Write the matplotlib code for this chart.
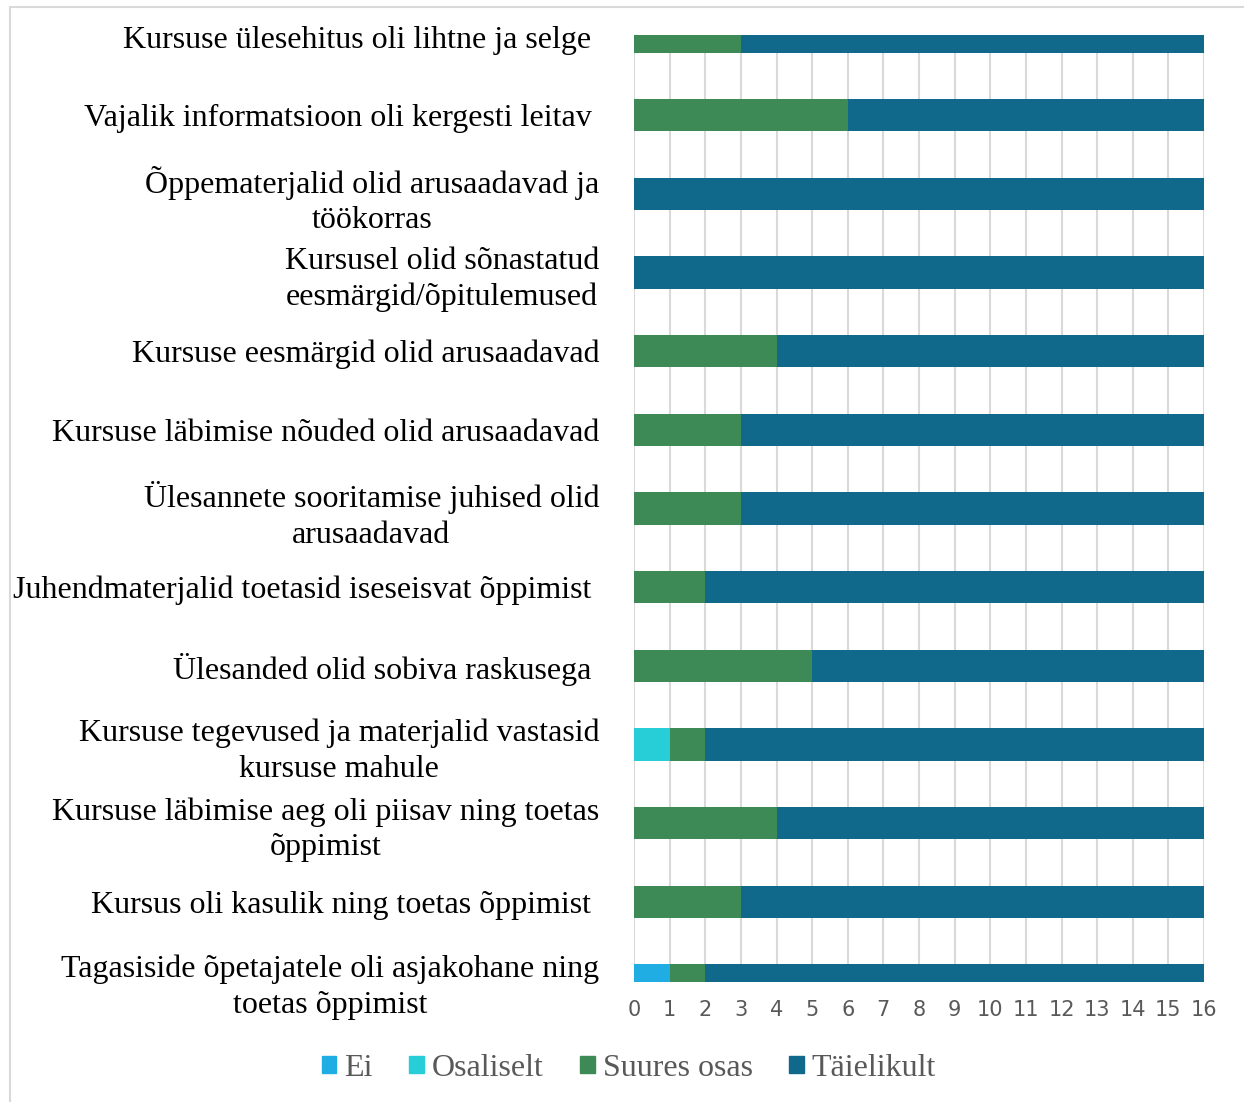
import matplotlib.pyplot as plt
import matplotlib.patches as mpatches
import numpy as np

categories = [
    'Kursuse ülesehitus oli lihtne ja selge ',
    'Vajalik informatsioon oli kergesti leitav ',
    'Õppematerjalid olid arusaadavad ja\ntöökorras',
    'Kursusel olid sõnastatud\neesmärgid/õpitulemused',
    'Kursuse eesmärgid olid arusaadavad',
    'Kursuse läbimise nõuded olid arusaadavad',
    'Ülesannete sooritamise juhised olid\narusaadavad',
    'Juhendmaterjalid toetasid iseseisvat õppimist ',
    'Ülesanded olid sobiva raskusega ',
    'Kursuse tegevused ja materjalid vastasid\nkursuse mahule',
    'Kursuse läbimise aeg oli piisav ning toetas\nõppimist',
    'Kursus oli kasulik ning toetas õppimist ',
    'Tagasiside õpetajatele oli asjakohane ning\ntoetas õppimist',
]
series_names = ['Ei', 'Osaliselt', 'Suures osas', 'Täielikult']
ei = [0, 0, 0, 0, 0, 0, 0, 0, 0, 0, 0, 0, 1]
osaliselt = [0, 0, 0, 0, 0, 0, 0, 0, 0, 1, 0, 0, 0]
suures_osas = [3, 6, 0, 0, 4, 3, 3, 2, 5, 1, 4, 3, 1]
taielikult = [13, 10, 16, 16, 12, 13, 13, 14, 11, 14, 12, 13, 14]
colors = ['#1fade4', '#27ced7', '#3d8a56', '#10688a']

serif = 'Liberation Serif'
fig = plt.figure(figsize=(12.44, 11.02), dpi=100)
ax = fig.add_axes([634 / 1244, 1 - 982 / 1102, (1204 - 634) / 1244, (982 - 35) / 1102])

y = np.arange(len(categories))
left = np.zeros(len(categories))
for vals, c in zip([ei, osaliselt, suures_osas, taielikult], colors):
    ax.barh(y, vals, left=left, height=0.41, color=c, zorder=3)
    left += np.array(vals)

ax.set_xlim(0, 16)
ax.set_ylim(12.02, -0.02)
ax.set_xticks(range(17))
ax.grid(axis='x', color='#d9d9d9', linewidth=1.5, zorder=0)
for s in ax.spines.values():
    s.set_visible(False)
ax.tick_params(axis='both', length=0)
ax.tick_params(axis='x', labelsize=15, labelcolor='#595959', pad=13)
ax.set_yticks(y)
ax.set_yticklabels(categories, fontfamily=serif, fontsize=23,
                   multialignment='center', linespacing=1.3)
ax.tick_params(axis='y', pad=25)

handles = [mpatches.Patch(color=c, label=n) for n, c in zip(series_names, colors)]
fig.legend(handles=handles, loc='center', bbox_to_anchor=(629 / 1244, 1 - 1068 / 1102),
           ncol=4, frameon=False, prop={'family': serif, 'size': 23},
           labelcolor='#595959', handlelength=0.45, handleheight=0.45,
           handletextpad=0.25, columnspacing=1.15)

fig.patches.append(mpatches.Rectangle((10 / 1244, -0.05), 1.2, 1 - 7 / 1102 + 0.05,
                                      transform=fig.transFigure, fill=False,
                                      edgecolor='#d9d9d9', linewidth=1.5))

fig.savefig('out.png', dpi=100)
